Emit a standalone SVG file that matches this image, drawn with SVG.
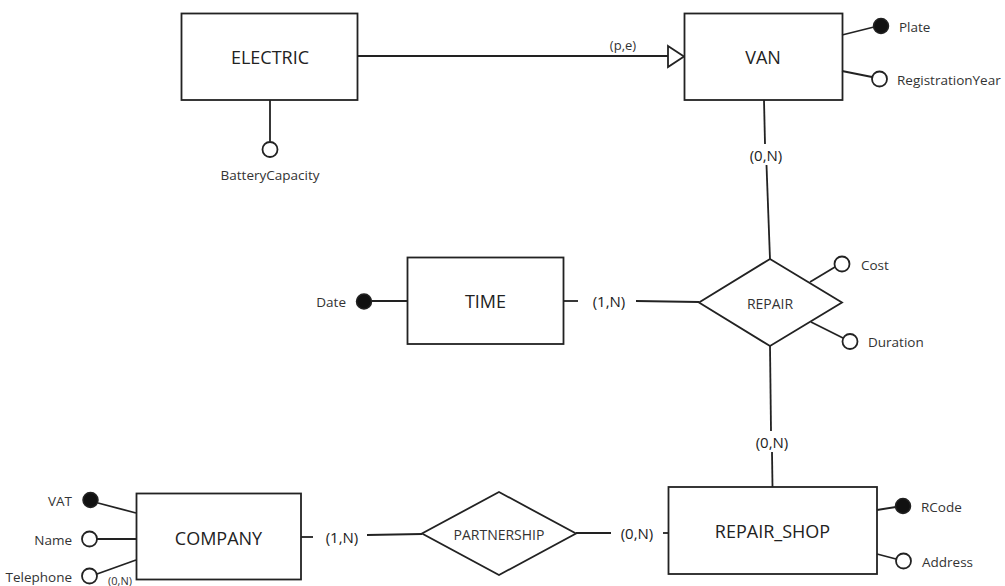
<svg xmlns="http://www.w3.org/2000/svg" width="1005" height="586" viewBox="0 0 1005 586">
<style>
.box{fill:#fff;stroke:#222;stroke-width:1.8}
.ln{fill:none;stroke:#222;stroke-width:1.8}
.key{fill:#111;stroke:#222;stroke-width:1.5}
.att{fill:#fff;stroke:#222;stroke-width:1.8}
.ent{font-family:"Open Sans","Noto Sans",sans-serif;font-size:18px;fill:#222;text-anchor:middle;dominant-baseline:central}
.rel{font-family:"Open Sans","Noto Sans",sans-serif;font-size:14px;fill:#333;text-anchor:middle;dominant-baseline:central}
.lab{font-family:"Open Sans","Noto Sans",sans-serif;font-size:13.5px;fill:#333;dominant-baseline:central}
.card{font-family:"Open Sans","Noto Sans",sans-serif;font-size:15px;fill:#222;text-anchor:middle;dominant-baseline:central}
</style>
<rect width="1005" height="586" fill="#fff"/>
<g id="connectors">
  <line class="ln" x1="357" y1="56" x2="669" y2="56"/>
  <polygon points="668,46 684,56.5 668,67" fill="#fff" stroke="#222" stroke-width="1.8"/>
  <text class="lab" x="623" y="45" text-anchor="middle" style="font-size:13px">(p,e)</text>
  <line class="ln" x1="764" y1="100" x2="765" y2="144"/>
  <text class="card" x="766" y="155">(0,N)</text>
  <line class="ln" x1="766.5" y1="165" x2="770" y2="259"/>
  <line class="ln" x1="563" y1="301" x2="578" y2="301"/>
  <text class="card" x="609" y="301">(1,N)</text>
  <line class="ln" x1="636" y1="301" x2="699" y2="302"/>
  <line class="ln" x1="770" y1="346" x2="771" y2="431"/>
  <text class="card" x="772" y="442">(0,N)</text>
  <line class="ln" x1="772" y1="452" x2="772.5" y2="487"/>
  <line class="ln" x1="301" y1="537" x2="313" y2="537"/>
  <text class="card" x="342" y="537">(1,N)</text>
  <line class="ln" x1="367" y1="535" x2="422" y2="534"/>
  <line class="ln" x1="576" y1="533" x2="611" y2="533"/>
  <text class="card" x="637" y="533">(0,N)</text>
  <line class="ln" x1="663" y1="533" x2="668" y2="533"/>
</g>
<g id="electric">
  <rect class="box" x="181.5" y="13.5" width="176" height="86.5"/>
  <text class="ent" x="270" y="57">ELECTRIC</text>
  <line class="ln" x1="270" y1="100" x2="270" y2="141.5"/>
  <circle class="att" cx="270" cy="149.5" r="7.5"/>
  <text class="lab" x="270" y="175" text-anchor="middle">BatteryCapacity</text>
</g>
<g id="van">
  <rect class="box" x="684.5" y="13.5" width="158" height="86.5"/>
  <text class="ent" x="763" y="57">VAN</text>
  <line class="ln" x1="842" y1="35" x2="874" y2="27"/>
  <circle class="key" cx="881" cy="26" r="7.5"/>
  <text class="lab" x="899" y="26.5">Plate</text>
  <line class="ln" x1="842" y1="71" x2="872" y2="77"/>
  <circle class="att" cx="879.5" cy="79" r="7.5"/>
  <text class="lab" x="897" y="79.5">RegistrationYear</text>
</g>
<g id="time">
  <rect class="box" x="407.5" y="257.5" width="156" height="86.5"/>
  <text class="ent" x="485.5" y="301">TIME</text>
  <line class="ln" x1="372" y1="301" x2="407" y2="301"/>
  <circle class="key" cx="364" cy="301.5" r="7.5"/>
  <text class="lab" x="346" y="301.5" text-anchor="end">Date</text>
</g>
<g id="repair">
  <polygon class="box" points="770,259 842,302.5 770,346 699,302.5"/>
  <text class="rel" x="770" y="303">REPAIR</text>
  <line class="ln" x1="810" y1="282" x2="835" y2="267"/>
  <circle class="att" cx="842" cy="264" r="7.5"/>
  <text class="lab" x="861" y="264.5">Cost</text>
  <line class="ln" x1="811" y1="322" x2="843" y2="338"/>
  <circle class="att" cx="850" cy="341.5" r="7.5"/>
  <text class="lab" x="868" y="342">Duration</text>
</g>
<g id="repair_shop">
  <rect class="box" x="668.5" y="487" width="208.5" height="87"/>
  <text class="ent" x="772.5" y="530.5">REPAIR_SHOP</text>
  <line class="ln" x1="877" y1="510" x2="896" y2="507"/>
  <circle class="key" cx="903" cy="506" r="7.5"/>
  <text class="lab" x="921" y="506.5">RCode</text>
  <line class="ln" x1="877" y1="554" x2="896" y2="559"/>
  <circle class="att" cx="903.5" cy="561" r="7.5"/>
  <text class="lab" x="922" y="561.5">Address</text>
</g>
<g id="partnership">
  <polygon class="box" points="499,492 576,533.5 499,575 422,533.5"/>
  <text class="rel" x="499" y="534">PARTNERSHIP</text>
</g>
<g id="company">
  <rect class="box" x="136.5" y="493.5" width="164.5" height="86"/>
  <text class="ent" x="218.5" y="537.5">COMPANY</text>
  <line class="ln" x1="98" y1="503" x2="136" y2="513"/>
  <circle class="key" cx="90.5" cy="500" r="7.5"/>
  <text class="lab" x="72" y="500.5" text-anchor="end">VAT</text>
  <line class="ln" x1="97" y1="539" x2="136" y2="539"/>
  <circle class="att" cx="89.5" cy="539" r="7.5"/>
  <text class="lab" x="72" y="539.5" text-anchor="end">Name</text>
  <line class="ln" x1="97" y1="574" x2="136" y2="560"/>
  <circle class="att" cx="89.5" cy="576" r="7.5"/>
  <text class="lab" x="72" y="576.5" text-anchor="end">Telephone</text>
  <text class="lab" x="120" y="580.5" text-anchor="middle" style="font-size:11px">(0,N)</text>
</g>
</svg>
